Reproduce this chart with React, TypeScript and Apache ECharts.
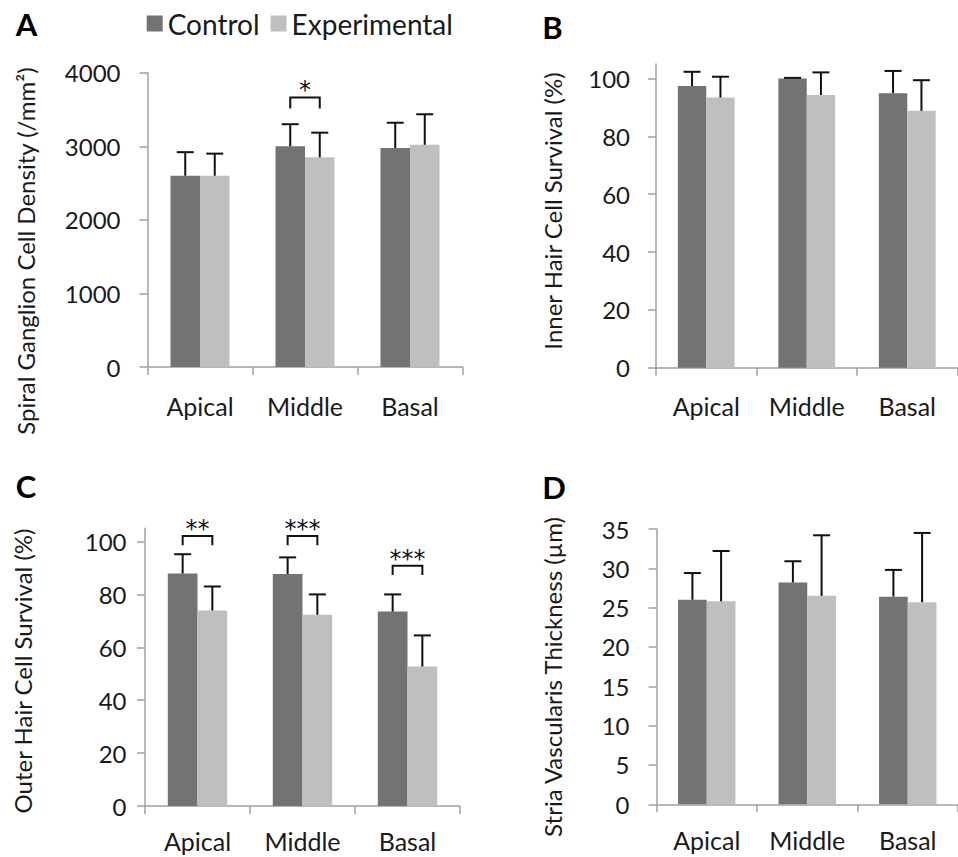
import React, { useEffect, useRef } from "react";
import * as echarts from "echarts";

const categories = ["Apical", "Middle", "Basal"];

// Panel A: Spiral ganglion cell density (/mm²)
const controlA = [2600, 3000, 2975];
const controlSdA = [320, 300, 345];
const experimentalA = [2600, 2850, 3020];
const experimentalSdA = [300, 335, 415];

// Panel B: Inner hair cell survival (%)
const controlB = [97.4, 100, 94.9];
const controlSdB = [4.9, 0.2, 7.7];
const experimentalB = [93.4, 94.3, 88.8];
const experimentalSdB = [7.2, 7.8, 10.6];

// Panel C: Outer hair cell survival (%)
const controlC = [87.9, 87.7, 73.5];
const controlSdC = [7.3, 6.3, 6.5];
const experimentalC = [73.9, 72.3, 52.7];
const experimentalSdC = [9.1, 7.7, 11.8];

// Panel D: Stria vascularis thickness (µm)
const controlD = [26.0, 28.2, 26.4];
const controlSdD = [3.4, 2.7, 3.4];
const experimentalD = [25.8, 26.5, 25.7];
const experimentalSdD = [6.4, 7.7, 8.8];

// significance brackets: [category index, bracket top, leg bottom, stars]
const bracketsA: [number, number, number, string][] = [[1, 3664, 3515, "*"]];
const bracketsC: [number, number, number, string][] = [
  [0, 102.1, 98.6, "**"],
  [1, 102.1, 98.6, "***"],
  [2, 90.8, 87.3, "***"],
];

const ticksA = [0, 1000, 2000, 3000, 4000];
const ticksB = [0, 20, 40, 60, 80, 100];
const ticksC = [0, 20, 40, 60, 80, 100];
const ticksD = [0, 5, 10, 15, 20, 25, 30, 35];

const FONT = "Lato";
const CONTROL_COLOR = "#737373";
const EXP_COLOR = "#bfbfbf";
const AXIS_COLOR = "#a0a0a0";
const TEXT_COLOR = "#1a1a1a";

export default function App() {
  const ref = useRef<HTMLDivElement>(null);
  useEffect(() => {
    if (!ref.current) return;
    const chart = echarts.init(ref.current, null, { renderer: "svg" });

    const grids = [
      { left: 147.5, top: 72.7, width: 315, height: 294.3 },
      { left: 656, top: 64, width: 301.5, height: 303.7 },
      { left: 145, top: 528.3, width: 315, height: 277.7 },
      { left: 656.5, top: 529, width: 307, height: 275.3 },
    ];
    const barWidths = [29.5, 28.4, 29.7, 28.7];
    const yMax = [4000, 105, 105, 35];
    const yTicks = [ticksA, ticksB, ticksC, ticksD];
    const labelMargins = [27, 26, 18.5, 27];
    const xLabelMargins = [26, 26, 22, 23];
    const panels = [
      [controlA, controlSdA, experimentalA, experimentalSdA],
      [controlB, controlSdB, experimentalB, experimentalSdB],
      [controlC, controlSdC, experimentalC, experimentalSdC],
      [controlD, controlSdD, experimentalD, experimentalSdD],
    ];

    const xAxis = grids.map((_, i) => ({
      type: "category",
      gridIndex: i,
      data: categories,
      boundaryGap: true,
      axisLine: { lineStyle: { color: AXIS_COLOR, width: 1.5 } },
      axisTick: { show: true, length: 8, lineStyle: { color: AXIS_COLOR, width: 1.5 } },
      axisLabel: { fontFamily: FONT, fontSize: 25, color: TEXT_COLOR, margin: xLabelMargins[i] },
    }));

    const yAxis = grids.map((_, i) => ({
      type: "value",
      gridIndex: i,
      min: 0,
      max: yMax[i],
      splitLine: { show: false },
      axisLine: { show: true, lineStyle: { color: AXIS_COLOR, width: 1.5 } },
      axisTick: {
        show: true,
        length: 8,
        lineStyle: { color: AXIS_COLOR, width: 1.5 },
        customValues: yTicks[i],
      },
      axisLabel: {
        fontFamily: FONT,
        fontSize: 24,
        color: TEXT_COLOR,
        margin: labelMargins[i],
        customValues: yTicks[i],
        formatter: (v: number) => String(v),
      },
    }));

    const errRender = (sign: number, bw: number) => (params: any, api: any) => {
      const cat = api.value(0);
      const p0 = api.coord([cat, api.value(1)]);
      const p1 = api.coord([cat, api.value(2)]);
      const x = p0[0] + (sign * bw) / 2;
      return {
        type: "group",
        children: [
          { type: "line", shape: { x1: x, y1: p0[1], x2: x, y2: p1[1] }, style: { stroke: "#111", lineWidth: 2 } },
          { type: "line", shape: { x1: x - 8.5, y1: p1[1], x2: x + 8.5, y2: p1[1] }, style: { stroke: "#111", lineWidth: 2 } },
        ],
      };
    };

    const bracketRender = (bw: number) => (params: any, api: any) => {
      const cat = api.value(0);
      const top = api.coord([cat, api.value(1)]);
      const leg = api.coord([cat, api.value(2)]);
      const xl = top[0] - bw / 2;
      const xr = top[0] + bw / 2;
      return {
        type: "group",
        children: [
          {
            type: "polyline",
            shape: { points: [[xl, leg[1]], [xl, top[1]], [xr, top[1]], [xr, leg[1]]] },
            style: { stroke: "#111", lineWidth: 2, fill: "none" },
          },
          {
            type: "text",
            x: top[0],
            y: top[1] - 7,
            style: {
              text: api.value(3),
              fontFamily: "DejaVu Sans",
              fontSize: 24,
              fill: "#111",
              align: "center",
              verticalAlign: "middle",
            },
          },
        ],
      };
    };

    const series: any[] = [];
    panels.forEach(([ctrl, ctrlSd, exp, expSd], i) => {
      const bw = barWidths[i];
      series.push({
        name: "Control",
        type: "bar",
        xAxisIndex: i,
        yAxisIndex: i,
        data: ctrl,
        barWidth: bw,
        barGap: "0%",
        itemStyle: { color: CONTROL_COLOR },
      });
      series.push({
        name: "Experimental",
        type: "bar",
        xAxisIndex: i,
        yAxisIndex: i,
        data: exp,
        barWidth: bw,
        barGap: "0%",
        itemStyle: { color: EXP_COLOR },
      });
      series.push({
        type: "custom",
        xAxisIndex: i,
        yAxisIndex: i,
        z: 5,
        clip: false,
        renderItem: errRender(-1, bw),
        data: ctrl.map((v, k) => [k, v, v + ctrlSd[k]]),
      });
      series.push({
        type: "custom",
        xAxisIndex: i,
        yAxisIndex: i,
        z: 5,
        clip: false,
        renderItem: errRender(1, bw),
        data: exp.map((v, k) => [k, v, v + expSd[k]]),
      });
    });
    series.push({
      type: "custom",
      xAxisIndex: 0,
      yAxisIndex: 0,
      z: 5,
      clip: false,
      renderItem: bracketRender(barWidths[0]),
      data: bracketsA,
    });
    series.push({
      type: "custom",
      xAxisIndex: 2,
      yAxisIndex: 2,
      z: 5,
      clip: false,
      renderItem: bracketRender(barWidths[2]),
      data: bracketsC,
    });

    const letter = (t: string, x: number, y: number) => ({
      type: "text",
      x,
      y,
      style: {
        text: t,
        fontFamily: FONT,
        fontWeight: "bold",
        fontSize: 31,
        fill: "#000",
        align: "center",
        verticalAlign: "middle",
      },
    });
    const ytitle = (t: string, x: number, y: number) => ({
      type: "text",
      x,
      y,
      rotation: Math.PI / 2,
      style: {
        text: t,
        fontFamily: FONT,
        fontSize: 24,
        fill: TEXT_COLOR,
        align: "center",
        verticalAlign: "middle",
      },
    });

    chart.setOption({
      animation: false,
      backgroundColor: "#ffffff",
      legend: {
        left: 146.7,
        top: 9.5,
        padding: 0,
        itemWidth: 16,
        itemHeight: 16,
        itemGap: 11,
        icon: "rect",
        data: ["Control", "Experimental"],
        textStyle: { fontFamily: FONT, fontSize: 28, color: TEXT_COLOR },
        selectedMode: false,
      },
      grid: grids,
      xAxis,
      yAxis,
      series,
      graphic: [
        letter("A", 26.5, 24),
        letter("B", 552.5, 26.5),
        letter("C", 26, 486),
        letter("D", 554, 486.5),
        ytitle("Spiral Ganglion Cell Density (/mm²)", 25, 251),
        ytitle("Inner Hair Cell Survival (%)", 552, 211),
        ytitle("Outer Hair Cell Survival (%)", 22.5, 671),
        ytitle("Stria Vascularis Thickness (µm)", 552, 677),
      ],
    });
    return () => chart.dispose();
  }, []);
  return (
    <div
      ref={ref}
      style={{ position: "absolute", left: 0, top: 0, width: 958, height: 857, background: "#fff" }}
    />
  );
}
